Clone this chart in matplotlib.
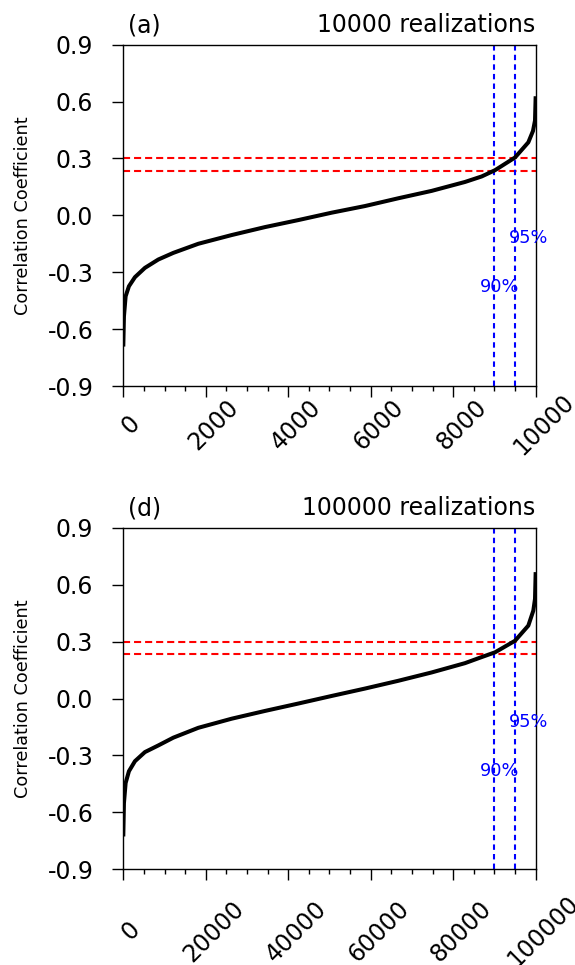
import matplotlib
matplotlib.use("Agg")
import matplotlib.pyplot as plt
from matplotlib.transforms import ScaledTranslation

plt.rcParams['font.family'] = ['DejaVu Sans']
plt.rcParams['axes.unicode_minus'] = False

# sorted correlation coefficients
idx_10k = [0, 16, 57, 137, 283, 525, 849, 1213, 1819, 2627, 3436, 4244, 5053,
           5861, 6669, 7478, 8286, 8690, 9014, 9499, 9822, 9935, 9984, 10000]
corr_10k = [-0.692, -0.533, -0.427, -0.374, -0.326, -0.277, -0.233, -0.198, -0.150,
            -0.104, -0.062, -0.025, 0.014, 0.049, 0.090, 0.129, 0.176, 0.205,
            0.238, 0.305, 0.385, 0.445, 0.500, 0.628]

idx_100k = [0, 160, 570, 1370, 2830, 5250, 8490, 12130, 18190, 26270, 34360, 42440,
            50530, 58610, 66690, 74780, 82860, 86900, 90140, 94990, 98220, 99430,
            99840, 100000]
corr_100k = [-0.727, -0.551, -0.445, -0.383, -0.330, -0.282, -0.247, -0.206, -0.154,
             -0.106, -0.065, -0.026, 0.014, 0.053, 0.094, 0.138, 0.187, 0.219,
             0.244, 0.305, 0.385, 0.464, 0.526, 0.667]

thresholds = [0.30, 0.235]          # red lines
pct_frac = [0.90, 0.95]             # blue lines (fraction of realizations)
pct_labels = ["90%", "95%"]
yticks = [-0.9, -0.6, -0.3, 0.0, 0.3, 0.6, 0.9]
ytick_labels = ["-0.9", "-0.6", "-0.3", "0.0", "0.3", "0.6", "0.9"]

panels = [
    ("(a)", "10000 realizations", idx_10k, corr_10k, 10000, 20.4),
    ("(d)", "100000 realizations", idx_100k, corr_100k, 100000, 37.0),
]

fig = plt.figure(figsize=(5.75, 9.65), dpi=100)
axes_pos = [[0.2144, 0.600, 0.7172, 0.3537],
            [0.2144, 0.0992, 0.7172, 0.3537]]

for pos, (tag, title, xs, ys, n, xpad) in zip(axes_pos, panels):
    ax = fig.add_axes(pos)
    ax.plot(xs, ys, color='black', lw=2.9, solid_capstyle='butt',
            solid_joinstyle='round', zorder=3)
    for t in thresholds:
        ax.axhline(t, color='red', lw=1.5, ls=(0, (3.4, 1.9)), zorder=2)
    for p in pct_frac:
        ax.axvline(p * n, color='blue', lw=1.5, ls=(0, (2.6, 2.0)), zorder=2)

    # percentile labels
    ax.text(0.9127 * n, -0.38, pct_labels[0], color='blue', fontsize=12.8,
            ha='center', va='center')
    ax.text(0.9830 * n, -0.122, pct_labels[1], color='blue', fontsize=12.8,
            ha='center', va='center')

    ax.set_xlim(0, n)
    ax.set_ylim(-0.9, 0.9)
    ax.set_yticks(yticks, ytick_labels)
    ax.set_xticks(range(0, n + 1, n // 5))
    ax.set_xticks(range(0, n + 1, n // 20), minor=True)
    ax.tick_params(axis='y', direction='out', length=7.6, width=1.0, pad=14,
                   labelsize=17)
    ax.tick_params(axis='x', which='major', direction='out', length=7.6,
                   width=1.0, pad=xpad, labelsize=17)
    ax.tick_params(axis='x', which='minor', direction='out', length=3.6,
                   width=1.0)
    for lab in ax.get_xticklabels():
        lab.set_rotation(45)
        lab.set_ha('center')
        lab.set_va('center')
        lab.set_transform(lab.get_transform() +
                          ScaledTranslation(8 / 100, 0, fig.dpi_scale_trans))
    for s in ax.spines.values():
        s.set_linewidth(1.0)

    ax.text(0.0114, 1.037, tag, transform=ax.transAxes, fontsize=17,
            ha='left', va='baseline')
    ax.text(1.0, 1.037, title, transform=ax.transAxes, fontsize=17,
            ha='right', va='baseline')

    fig.text(23 / 575, pos[1] + pos[3] / 2, "Correlation Coefficient",
             rotation=90, ha='center', va='center', fontsize=12.7)

fig.savefig("out.png", dpi=100)
